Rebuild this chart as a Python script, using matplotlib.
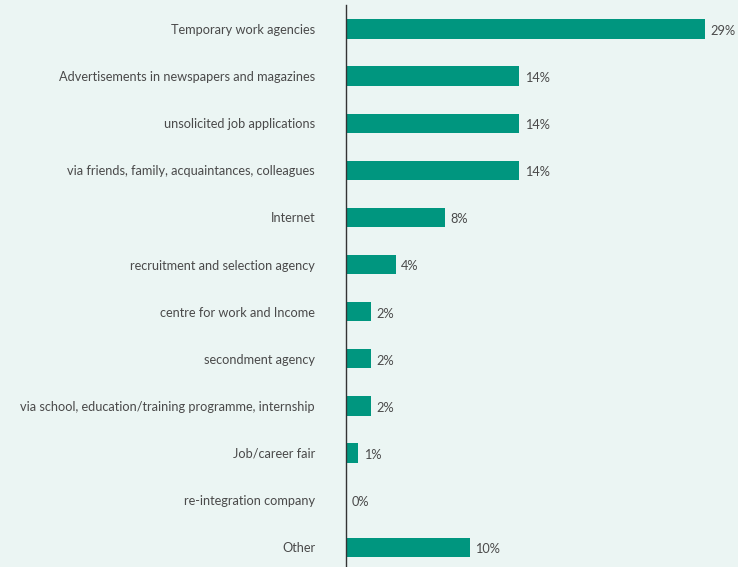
import matplotlib
matplotlib.use("Agg")
import matplotlib.pyplot as plt

categories = [
    "Temporary work agencies",
    "Advertisements in newspapers and magazines",
    "unsolicited job applications",
    "via friends, family, acquaintances, colleagues",
    "Internet",
    "recruitment and selection agency",
    "centre for work and Income",
    "secondment agency",
    "via school, education/training programme, internship",
    "Job/career fair",
    "re-integration company",
    "Other",
]
values = [29, 14, 14, 14, 8, 4, 2, 2, 2, 1, 0, 10]

BG = "#EBF5F3"
BAR = "#00967F"
TEXT = "#4A4A4A"
FONT = "Lato"

W, H = 738, 567
fig = plt.figure(figsize=(W / 100, H / 100), dpi=100, facecolor=BG)
ax = fig.add_axes([346 / W, 0, (W - 346) / W, (H - 5) / H])
ax.set_facecolor(BG)

y = list(range(len(categories)))
ax.barh(y, values, height=0.41, color=BAR, edgecolor="none")
ax.set_xlim(0, (W - 346) / 12.38)
ax.set_ylim(11.42, -0.51)

for yi, v in zip(y, values):
    ax.text(v + 0.45, yi + 0.04, f"{v}%", va="center", ha="left",
            fontsize=9.2, color=TEXT, family=FONT)

ax.set_yticks(y)
ax.set_yticklabels(categories, fontsize=9.2, color=TEXT, family=FONT)
ax.tick_params(axis="y", length=0, pad=22.3)
ax.set_xticks([])
for s in ["top", "right", "bottom"]:
    ax.spines[s].set_visible(False)
ax.spines["left"].set_color("#333333")
ax.spines["left"].set_linewidth(1.0)

fig.savefig("out.png", dpi=100, facecolor=BG)
